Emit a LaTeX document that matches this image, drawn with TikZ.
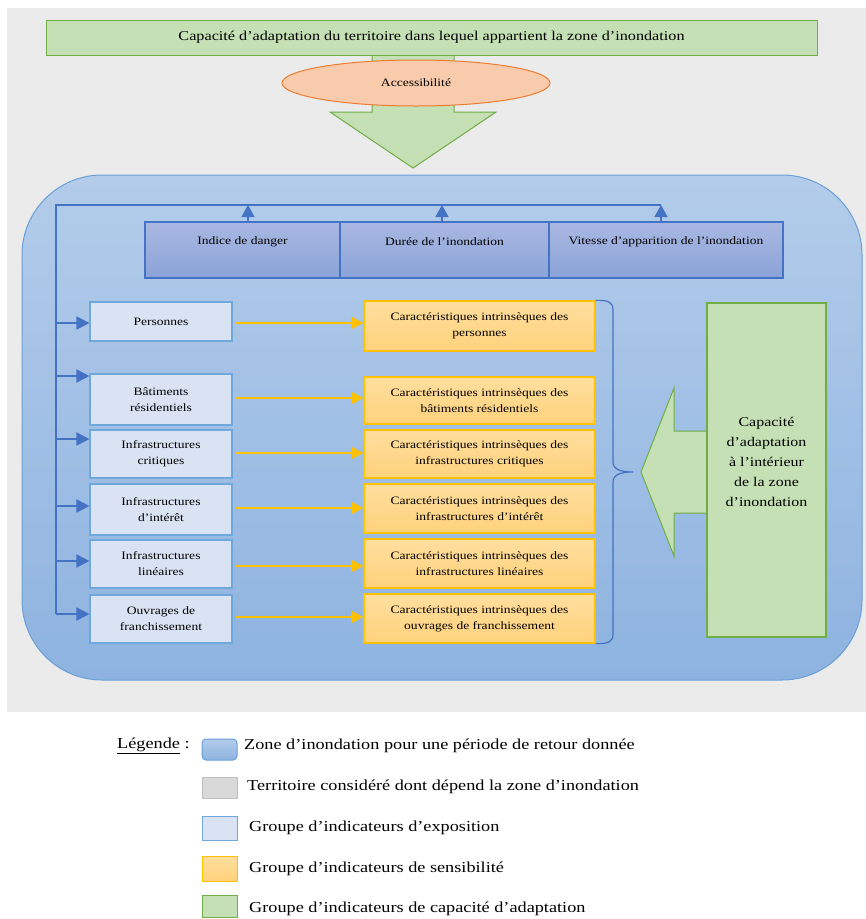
\documentclass[tikz,border=0pt]{standalone}
\usepackage{fontspec}
\setmainfont{Liberation Serif}[FakeStretch=1.2]
\usetikzlibrary{arrows.meta,shapes.geometric,calc}
\definecolor{bgc}{HTML}{EBEBEB}
\definecolor{zoneT}{HTML}{B3CCEA}
\definecolor{zoneB}{HTML}{8EB3E0}
\definecolor{zoneD}{HTML}{6A9FD8}
\definecolor{grnF}{HTML}{C5E0B4}
\definecolor{grnD}{HTML}{70AD47}
\definecolor{orF}{HTML}{F8CBAD}
\definecolor{orD}{HTML}{ED7D31}
\definecolor{hazT}{HTML}{AAB8E2}
\definecolor{hazB}{HTML}{8AA3D8}
\definecolor{hazD}{HTML}{4472C4}
\definecolor{expF}{HTML}{DAE3F3}
\definecolor{expD}{HTML}{6FA8DC}
\definecolor{senT}{HTML}{FFDE9E}
\definecolor{senB}{HTML}{FFD27C}
\definecolor{senD}{HTML}{FFC000}
\definecolor{arrB}{HTML}{4472C4}
\definecolor{greyF}{HTML}{D9D9D9}
\definecolor{greyD}{HTML}{BFBFBF}
\newcommand{\smallfnt}{\fontsize{11.3}{16}\selectfont}
\begin{document}
\begin{tikzpicture}[x=1pt,y=-1pt,
  expo/.style={draw=expD, fill=expF, line width=1.1pt, minimum width=142pt, align=center, font=\smallfnt, inner sep=0pt},
  sens/.style={draw=senD, top color=senT, bottom color=senB, line width=1.2pt, minimum width=231pt, align=center, font=\smallfnt, inner sep=0pt},
  haz/.style={draw=hazD, top color=hazT, bottom color=hazB, line width=1.1pt, minimum height=56pt, inner sep=0pt},
  hazlbl/.style={font=\smallfnt, yshift=8pt},
  garrow/.style={draw=grnD, fill=grnF, line width=1pt},
  barrow/.style={draw=arrB, line width=1.8pt, -{Triangle[length=13pt,width=13pt]}},
  uparrow/.style={draw=arrB, line width=1.5pt, -{Triangle[length=12pt,width=13pt]}},
  yarrow/.style={draw=senD, line width=2pt, -{Triangle[length=12pt,width=12pt]}},
  fbline/.style={draw=arrB, line width=1.5pt},
  swatch/.style={minimum width=35pt, inner sep=0pt, line width=1pt},
  legtxt/.style={anchor=west, font=\fontsize{15.2}{18}\selectfont, inner sep=0pt}
]
\useasboundingbox (0,0) rectangle (866,919);
\fill[bgc] (7,8) rectangle (866,712);

% top part
\draw[garrow] (372,50) -- (454,50) -- (454,112) -- (496,112) -- (413,168) -- (330,112) -- (372,112) -- cycle;
\node[draw=grnD, fill=grnF, line width=1pt, minimum width=771pt, minimum height=35pt, inner sep=0pt,
  font=\fontsize{13.5}{16}\selectfont] (terr) at (431.5,37.5)
  {Capacité d’adaptation du territoire dans lequel appartient la zone d’inondation};
\node[ellipse, draw=orD, fill=orF, line width=1pt, minimum width=268pt, minimum height=46pt, inner sep=0pt,
  font=\smallfnt] (acc) at (416,83) {Accessibilité};

% flood zone
\node[draw=zoneD, top color=zoneT, bottom color=zoneB, line width=1pt, rounded corners=80pt,
  minimum width=840pt, minimum height=505pt, inner sep=0pt] (zone) at (442,427.5) {};

% hazard boxes
\node[haz, minimum width=195pt, label={[hazlbl]center:Indice de danger}] (h1) at (242.5,250) {};
\node[haz, minimum width=209pt, label={[hazlbl]center:Durée de l’inondation}] (h2) at (444.5,250) {};
\node[haz, minimum width=234pt, label={[hazlbl]center:Vitesse d’apparition de l’inondation}] (h3) at (666,250) {};

% exposure boxes
\node[expo, minimum height=39pt] (e1) at (161,321.5) {Personnes};
\node[expo, minimum height=51pt] (e2) at (161,399.5) {Bâtiments\\résidentiels};
\node[expo, minimum height=48pt] (e3) at (161,454) {Infrastructures\\critiques};
\node[expo, minimum height=51pt] (e4) at (161,509.5) {Infrastructures\\d’intérêt};
\node[expo, minimum height=48pt] (e5) at (161,564) {Infrastructures\\linéaires};
\node[expo, minimum height=48pt] (e6) at (161,619) {Ouvrages de\\franchissement};

% sensitivity boxes
\node[sens, minimum height=50pt] (s1) at (479.5,326) {Caractéristiques intrinsèques des\\personnes};
\node[sens, minimum height=47pt] (s2) at (479.5,400.5) {Caractéristiques intrinsèques des\\bâtiments résidentiels};
\node[sens, minimum height=48pt] (s3) at (479.5,454) {Caractéristiques intrinsèques des\\infrastructures critiques};
\node[sens, minimum height=49pt] (s4) at (479.5,508.5) {Caractéristiques intrinsèques des\\infrastructures d’intérêt};
\node[sens, minimum height=49pt] (s5) at (479.5,563.5) {Caractéristiques intrinsèques des\\infrastructures linéaires};
\node[sens, minimum height=49pt] (s6) at (479.5,618.5) {Caractéristiques intrinsèques des\\ouvrages de franchissement};

% feedback line
\coordinate (fbL) at (56,205);
\coordinate (up1) at (248,205);
\coordinate (up2) at (442,205);
\coordinate (up3) at (661,205);
\coordinate (sp1) at (56,323);
\coordinate (sp2) at (56,376);
\coordinate (sp3) at (56,439);
\coordinate (sp4) at (56,506);
\coordinate (sp5) at (56,561);
\coordinate (sp6) at (56,614);
\draw[fbline] (up3) -- (fbL) -- (sp6);
\draw[uparrow] (h1.north -| up1) -- (up1);
\draw[uparrow] (h2.north -| up2) -- (up2);
\draw[uparrow] (h3.north -| up3) -- (up3);
\draw[barrow] (sp1) -- (sp1 -| e1.west);
\draw[barrow] (sp2) -- (sp2 -| e2.west);
\draw[barrow] (sp3) -- (sp3 -| e3.west);
\draw[barrow] (sp4) -- (sp4 -| e4.west);
\draw[barrow] (sp5) -- (sp5 -| e5.west);
\draw[barrow] (sp6) -- (sp6 -| e6.west);

% yellow arrows
\coordinate (y1) at (0,323);
\coordinate (y2) at (0,398);
\coordinate (y3) at (0,453);
\coordinate (y4) at (0,508);
\coordinate (y5) at (0,566);
\coordinate (y6) at (0,617);
\foreach \i in {1,...,6}{
  \draw[yarrow, shorten <=3pt] (e\i.east |- y\i) -- (s\i.west |- y\i);
}

% brace
\draw[draw=arrB, line width=1.2pt] (s1.north east) .. controls (608,300) and (613,302) .. (613,310)
  -- (613,462) .. controls (613,469) and (620,472) .. (633,472)
  .. controls (620,472) and (613,475) .. (613,482)
  -- (613,634) .. controls (613,642) and (608,644) .. (s6.south east);

% adaptive capacity inside
\draw[garrow] (707,431) -- (674,431) -- (674,388) -- (641,472) -- (674,556) -- (674,513) -- (707,513);
\node[draw=grnD, fill=grnF, line width=1.2pt, minimum width=119pt, minimum height=334pt, inner sep=0pt,
  label={[align=center, font=\fontsize{13.3}{20}\selectfont, yshift=8pt]center:Capacité\\d’adaptation\\à l’intérieur\\de la zone\\d’inondation}]
  (cap) at (766.5,470) {};

% legend
\node[anchor=west, font=\fontsize{15.2}{18}\selectfont, inner sep=0pt] (leg) at (117,746) {\underline{Légende} :};
\node[swatch, draw=zoneD, top color=zoneT, bottom color=zoneB, rounded corners=4pt, minimum height=21pt] (lg1) at (219.5,749.5) {};
\node[swatch, draw=greyD, fill=greyF, minimum height=21pt] (lg2) at (219.5,787.5) {};
\node[swatch, draw=expD, fill=expF, minimum height=24pt] (lg3) at (219.5,828) {};
\node[swatch, draw=senD, top color=senT, bottom color=senB, minimum height=25pt] (lg4) at (219.5,868.5) {};
\node[swatch, draw=grnD, fill=grnF, minimum height=22pt] (lg5) at (219.5,906) {};
\node[legtxt] (t1) at (244,746) {Zone d’inondation pour une période de retour donnée};
\node[legtxt] (t2) at (247,787) {Territoire considéré dont dépend la zone d’inondation};
\node[legtxt] (t3) at (249,828) {Groupe d’indicateurs d’exposition};
\node[legtxt] (t4) at (249,869) {Groupe d’indicateurs de sensibilité};
\node[legtxt] (t5) at (249,909) {Groupe d’indicateurs de capacité d’adaptation};
\end{tikzpicture}
\end{document}
